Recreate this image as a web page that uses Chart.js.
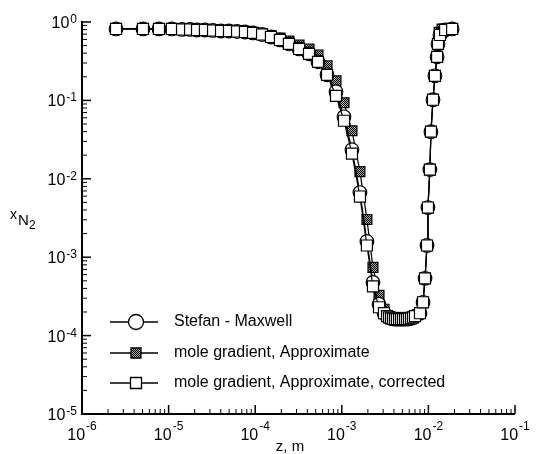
<!DOCTYPE html>
<html><head><meta charset="utf-8">
<script src="https://cdn.jsdelivr.net/npm/chart.js@4"></script>
<style>html,body{margin:0;padding:0;background:#fff}#wrap{width:538px;height:454px}</style>
</head><body><div id="wrap"><canvas id="c" width="538" height="454"></canvas></div>
<script>
// ---- data ----
const zSM = [2.47e-6, 5.06e-6, 7.74e-6, 1.09e-5, 1.43e-5, 1.77e-5, 2.13e-5, 2.63e-5, 3.26e-5, 4.03e-5,
  4.98e-5, 6.17e-5, 7.62e-5, 9.44e-5, 1.20e-4, 1.52e-4, 1.93e-4, 2.45e-4, 3.21e-4, 4.18e-4,
  5.31e-4, 6.75e-4, 8.57e-4, 1.06e-3, 1.31e-3, 1.62e-3, 1.95e-3, 2.29e-3, 2.69e-3, 3.07e-3,
  3.33e-3, 3.51e-3, 3.70e-3, 3.90e-3, 4.11e-3, 4.33e-3, 4.58e-3, 4.83e-3, 5.09e-3, 5.37e-3,
  5.66e-3, 5.97e-3, 6.30e-3, 6.64e-3, 7.00e-3,
  8.00e-3, 8.67e-3, 9.14e-3, 9.64e-3, 9.88e-3, 1.04e-2, 1.07e-2, 1.13e-2, 1.19e-2, 1.26e-2,
  1.29e-2, 1.36e-2, 1.56e-2, 1.88e-2];
const xSM = [0.815, 0.815, 0.815, 0.815, 0.803, 0.803, 0.791, 0.791, 0.780, 0.768,
  0.768, 0.757, 0.746, 0.725, 0.693, 0.644, 0.590, 0.525, 0.453, 0.392,
  0.310, 0.212, 0.129, 0.0618, 0.0235, 6.68e-3, 1.59e-3, 4.78e-4, 2.51e-4, 1.93e-4,
  1.77e-4, 1.71e-4, 1.66e-4, 1.64e-4, 1.62e-4, 1.62e-4, 1.62e-4, 1.62e-4, 1.62e-4, 1.62e-4,
  1.62e-4, 1.64e-4, 1.66e-4, 1.71e-4, 1.77e-4,
  1.93e-4, 2.66e-4, 5.37e-4, 1.41e-3, 4.30e-3, 0.0131, 0.0399, 0.102, 0.206, 0.359,
  0.525, 0.683, 0.791, 0.815];

const zApprox = [2.47e-6, 5.06e-6, 7.74e-6, 1.09e-5, 1.43e-5, 1.77e-5, 2.13e-5, 2.63e-5, 3.26e-5, 4.03e-5,
  4.98e-5, 6.17e-5, 7.62e-5, 9.44e-5, 1.20e-4, 1.52e-4, 1.93e-4, 2.45e-4, 3.21e-4, 4.18e-4,
  5.31e-4, 6.75e-4, 8.57e-4, 1.06e-3, 1.31e-3, 1.62e-3, 1.95e-3, 2.29e-3, 2.69e-3, 3.07e-3,
  3.33e-3, 3.51e-3, 3.70e-3, 3.90e-3, 4.11e-3, 4.33e-3, 4.58e-3, 4.83e-3, 5.09e-3, 5.37e-3,
  5.66e-3, 5.97e-3, 6.30e-3, 6.64e-3, 7.00e-3,
  8.00e-3, 8.67e-3, 9.14e-3, 9.64e-3, 9.88e-3, 1.04e-2, 1.07e-2, 1.13e-2, 1.19e-2, 1.26e-2,
  1.29e-2, 1.33e-2, 1.44e-2, 1.56e-2];
const xApprox = [0.815, 0.815, 0.815, 0.815, 0.803, 0.803, 0.791, 0.791, 0.780, 0.768,
  0.768, 0.757, 0.746, 0.725, 0.714, 0.673, 0.626, 0.573, 0.510, 0.453,
  0.380, 0.276, 0.1776, 0.0932, 0.0410, 0.01235, 3.03e-3, 7.42e-4, 3.27e-4, 2.17e-4,
  1.77e-4, 1.71e-4, 1.66e-4, 1.64e-4, 1.62e-4, 1.62e-4, 1.62e-4, 1.62e-4, 1.62e-4, 1.62e-4,
  1.62e-4, 1.64e-4, 1.66e-4, 1.71e-4, 1.77e-4,
  1.93e-4, 2.66e-4, 5.37e-4, 1.41e-3, 4.30e-3, 0.0131, 0.0399, 0.102, 0.206, 0.359,
  0.525, 0.74, 0.815, 0.815];

const zCorr = zSM.slice();
const xCorr = [0.815, 0.815, 0.815, 0.815, 0.803, 0.803, 0.791, 0.791, 0.780, 0.768,
  0.768, 0.757, 0.746, 0.725, 0.693, 0.644, 0.590, 0.525, 0.453, 0.392,
  0.310, 0.212, 0.1144, 0.0550, 0.0209, 5.94e-3, 1.41e-3, 4.25e-4, 2.30e-4, 1.93e-4,
  1.77e-4, 1.71e-4, 1.66e-4, 1.64e-4, 1.62e-4, 1.62e-4, 1.62e-4, 1.62e-4, 1.62e-4, 1.62e-4,
  1.62e-4, 1.64e-4, 1.66e-4, 1.71e-4, 1.77e-4,
  1.93e-4, 2.66e-4, 5.37e-4, 1.41e-3, 4.30e-3, 0.0131, 0.0399, 0.102, 0.206, 0.359,
  0.525, 0.683, 0.791, 0.815];

const seriesNames = ['Stefan - Maxwell', 'mole gradient, Approximate', 'mole gradient, Approximate, corrected'];
const xTickExps = [-6, -5, -4, -3, -2, -1];
const yTickExps = [0, -1, -2, -3, -4, -5];
const xTitle = 'z, m';

// ---- styling ----
const FONT = '"Liberation Sans", Arial, sans-serif';
const canvas = document.getElementById('c');
const pc = document.createElement('canvas'); pc.width = 2; pc.height = 2;
const pctx = pc.getContext('2d');
pctx.fillStyle = '#aaa'; pctx.fillRect(0, 0, 2, 2);
pctx.fillStyle = '#000'; pctx.fillRect(0, 0, 1, 1); pctx.fillRect(1, 1, 1, 1);
const checker = canvas.getContext('2d').createPattern(pc, 'repeat');

const toPts = (zs, xs) => zs.map((z, i) => ({x: z, y: xs[i]}));

const styles = [
  {style: 'circle', r: 6.8, fill: '#fff'},
  {style: 'rect', r: 7.0, fill: checker},
  {style: 'rect', r: 7.8, fill: '#fff'}
];

function pow10(ctx, x, y, exp, mode) {
  ctx.font = '16px ' + FONT;
  const wb = ctx.measureText('10').width;
  ctx.font = '12px ' + FONT;
  const es = String(exp);
  const we = ctx.measureText(es).width;
  const total = wb + we + 1;
  let start, by, ey;
  if (mode === 'x') { start = x - total / 2; by = y + 26; ey = y + 16; }
  else { start = x - total; by = y + 6; ey = y + 1; }
  ctx.textAlign = 'left'; ctx.textBaseline = 'alphabetic';
  ctx.font = '16px ' + FONT; ctx.fillText('10', start, by);
  ctx.font = '12px ' + FONT; ctx.fillText(es, start + wb + 1, ey);
}

const decor = {
  id: 'decor',
  afterDraw(chart) {
    const ctx = chart.ctx, xs = chart.scales.x, ys = chart.scales.y, a = chart.chartArea;
    ctx.save();
    ctx.strokeStyle = '#000'; ctx.fillStyle = '#000';
    ctx.lineWidth = 2;
    ctx.beginPath();
    ctx.moveTo(a.left, a.top - 1); ctx.lineTo(a.left, a.bottom); ctx.lineTo(a.right, a.bottom);
    ctx.stroke();
    // ticks
    xTickExps.forEach(e => {
      const px = xs.getPixelForValue(Math.pow(10, e));
      ctx.lineWidth = 1.5;
      ctx.beginPath(); ctx.moveTo(px, a.bottom); ctx.lineTo(px, a.bottom - 9); ctx.stroke();
      if (e < -1) for (let m = 2; m <= 9; m++) {
        const p = xs.getPixelForValue(m * Math.pow(10, e));
        ctx.lineWidth = 1;
        ctx.beginPath(); ctx.moveTo(p, a.bottom); ctx.lineTo(p, a.bottom - 5); ctx.stroke();
      }
      pow10(ctx, px, a.bottom, e, 'x');
    });
    yTickExps.forEach(e => {
      const py = ys.getPixelForValue(Math.pow(10, e));
      ctx.lineWidth = 1.5;
      ctx.beginPath(); ctx.moveTo(a.left, py); ctx.lineTo(a.left + 9, py); ctx.stroke();
      if (e > -5) for (let m = 2; m <= 9; m++) {
        const p = ys.getPixelForValue(m * Math.pow(10, e - 1));
        ctx.lineWidth = 1;
        ctx.beginPath(); ctx.moveTo(a.left, p); ctx.lineTo(a.left + 5, p); ctx.stroke();
      }
      pow10(ctx, a.left - 5, py, e, 'y');
    });
    // axis titles
    ctx.textBaseline = 'alphabetic'; ctx.textAlign = 'center';
    ctx.font = '15px ' + FONT;
    ctx.fillText(xTitle, 290, 451);
    ctx.textAlign = 'left';
    ctx.font = '14px ' + FONT; ctx.fillText('x', 10, 219);
    ctx.font = '15px ' + FONT; ctx.fillText('N', 18, 225);
    ctx.font = '12px ' + FONT; ctx.fillText('2', 29, 229);
    // legend
    const rows = [322, 353, 383];
    rows.forEach((ry, i) => {
      ctx.lineWidth = 1.4; ctx.strokeStyle = '#000';
      ctx.beginPath(); ctx.moveTo(110, ry); ctx.lineTo(158, ry); ctx.stroke();
      const s = styles[i];
      ctx.lineWidth = 1.3;
      ctx.fillStyle = s.fill;
      ctx.beginPath();
      if (s.style === 'circle') ctx.arc(136, ry, 7.5, 0, Math.PI * 2);
      else { const h = i === 1 ? 5 : 5.5; ctx.rect(136 - h, ry - h, 2 * h, 2 * h); }
      ctx.fill(); ctx.stroke();
      ctx.fillStyle = '#000';
      ctx.font = '16px ' + FONT; ctx.textBaseline = 'middle';
      ctx.fillText(seriesNames[i], 174, ry);
    });
    ctx.restore();
  }
};

const mk = (i, zs, xs, order) => ({
  label: seriesNames[i],
  data: toPts(zs, xs),
  showLine: true,
  borderColor: '#000',
  borderWidth: 1.2,
  pointStyle: styles[i].style,
  pointRadius: styles[i].r,
  pointBackgroundColor: styles[i].fill,
  pointBorderColor: '#000',
  pointBorderWidth: 1.2,
  order: order,
  clip: false
});

new Chart(canvas, {
  type: 'scatter',
  data: {
    datasets: [
      mk(0, zSM, xSM, 1),
      mk(1, zApprox, xApprox, 2),
      mk(2, zCorr, xCorr, 0)
    ]
  },
  options: {
    responsive: false,
    animation: false,
    devicePixelRatio: 1,
    events: [],
    layout: {padding: {left: 82, right: 23, top: 22, bottom: 40}},
    plugins: {legend: {display: false}, tooltip: {enabled: false}},
    scales: {
      x: {type: 'logarithmic', min: 1e-6, max: 1e-1,
          ticks: {display: false}, grid: {display: false}, border: {display: false},
          afterFit: s => { s.height = 0; }},
      y: {type: 'logarithmic', min: 1e-5, max: 1,
          ticks: {display: false}, grid: {display: false}, border: {display: false},
          afterFit: s => { s.width = 0; }}
    }
  },
  plugins: [decor]
});
</script>
</body></html>
